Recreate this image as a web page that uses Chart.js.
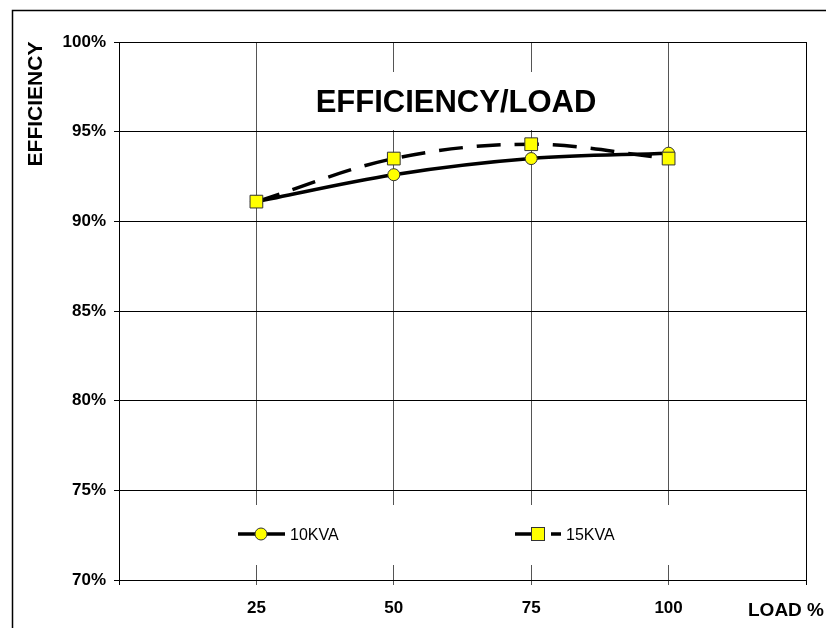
<!DOCTYPE html>
<html>
<head>
<meta charset="utf-8">
<script src="https://cdn.jsdelivr.net/npm/chart.js@4/dist/chart.umd.min.js"></script>
<style>
  html, body { margin: 0; padding: 0; background: #fff; }
  #wrap { width: 826px; height: 628px; }
</style>
</head>
<body>
<div id="wrap"><canvas id="effChart" width="826" height="628"></canvas></div>
<script>
// data
var loads = [25, 50, 75, 100];
var eff10kva = [91.1, 92.6, 93.5, 93.8];
var eff15kva = [91.1, 93.5, 94.3, 93.5];
var seriesNames = ["10KVA", "15KVA"];
var yTickValues = [70, 75, 80, 85, 90, 95, 100];
var xTickLabels = ["25", "50", "75", "100"];

var FONT = "'Liberation Sans', Arial, sans-serif";

function toPoints(xs, ys) {
  return xs.map(function (x, i) { return { x: x, y: ys[i] }; });
}

// white boxes, title, legend, axis titles and outer frame
var decorPlugin = {
  id: "decor",
  beforeDraw: function (chart) {
    var c = chart.ctx;
    c.save();
    c.fillStyle = "#fff";
    c.fillRect(0, 0, chart.width, chart.height);
    c.strokeStyle = "#000";
    c.lineWidth = 1.5;
    c.beginPath();
    c.moveTo(12.5, 628);
    c.lineTo(12.5, 10.5);
    c.lineTo(826, 10.5);
    c.stroke();
    c.restore();
  },
  beforeDatasetsDraw: function (chart) {
    var c = chart.ctx;
    c.save();
    c.fillStyle = "#fff";
    c.fillRect(300, 72, 340, 58);
    c.fillRect(225, 505, 480, 60);

    c.fillStyle = "#000";
    c.textAlign = "center";
    c.textBaseline = "middle";
    c.font = "bold 31px " + FONT;
    c.fillText("EFFICIENCY/LOAD", 456, 103);

    // y title
    c.save();
    c.translate(36, 104);
    c.rotate(-Math.PI / 2);
    c.font = "bold 21px " + FONT;
    c.fillText("EFFICIENCY", 0, 0);
    c.restore();

    c.textAlign = "left";
    c.font = "bold 19px " + FONT;
    c.fillText("LOAD %", 748, 611);

    // legend
    var ds = chart.data.datasets;
    c.lineWidth = 3.5;
    c.strokeStyle = "#000";
    c.beginPath();
    c.moveTo(238, 534);
    c.lineTo(285, 534);
    c.stroke();
    c.lineWidth = 1;
    c.strokeStyle = "#333";
    c.fillStyle = ds[1].pointBackgroundColor;
    c.beginPath();
    c.arc(261, 534, 6, 0, Math.PI * 2);
    c.fill();
    c.stroke();

    c.lineWidth = 3.5;
    c.strokeStyle = "#000";
    c.setLineDash([24, 12]);
    c.beginPath();
    c.moveTo(515, 534);
    c.lineTo(561, 534);
    c.stroke();
    c.setLineDash([]);
    c.lineWidth = 1;
    c.strokeStyle = "#333";
    c.fillStyle = ds[0].pointBackgroundColor;
    c.fillRect(531.5, 527.5, 13, 13);
    c.strokeRect(531.5, 527.5, 13, 13);

    c.fillStyle = "#000";
    c.font = "16px " + FONT;
    c.textBaseline = "middle";
    c.fillText(seriesNames[0], 290, 536);
    c.fillText(seriesNames[1], 566, 536);
    c.restore();
  }
};

var ctx = document.getElementById("effChart").getContext("2d");
var chart = new Chart(ctx, {
  type: "line",
  plugins: [decorPlugin],
  data: {
    datasets: [
      {
        label: seriesNames[1],
        data: toPoints(loads, eff15kva),
        order: 1,
        borderColor: "#000",
        borderWidth: 3.5,
        borderDash: [24, 14],
        tension: 0.35,
        pointStyle: "rect",
        pointRadius: 9,
        pointBackgroundColor: "#ffff00",
        pointBorderColor: "#333",
        pointBorderWidth: 1,
      },
      {
        label: seriesNames[0],
        data: toPoints(loads, eff10kva),
        order: 2,
        borderColor: "#000",
        borderWidth: 3.5,
        tension: 0.35,
        pointStyle: "circle",
        pointRadius: 6,
        pointBackgroundColor: "#ffff00",
        pointBorderColor: "#333",
        pointBorderWidth: 1,
      },
    ],
  },
  options: {
    responsive: false,
    animation: false,
    layout: { padding: { left: 0, top: 42, right: 20, bottom: 0 } },
    plugins: {
      legend: { display: false },
      tooltip: { enabled: false },
    },
    scales: {
      x: {
        type: "linear",
        min: 0,
        max: 125,
        afterFit: function (s) { s.height = 48; },
        afterBuildTicks: function (s) {
          s.ticks = [0, 25, 50, 75, 100, 125].map(function (v) { return { value: v }; });
        },
        grid: {
          color: function (c) {
            return c.tick && (c.tick.value === 0 || c.tick.value === 125) ? "#000" : "#555";
          },
          tickLength: 5,
        },
        border: { color: "#000", width: 1 },
        ticks: {
          padding: 13,
          color: "#000",
          font: { family: FONT, size: 17, weight: "bold" },
          callback: function (v) {
            var i = loads.indexOf(v);
            return i >= 0 ? xTickLabels[i] : "";
          },
        },
      },
      y: {
        min: 70,
        max: 100,
        afterFit: function (s) { s.width = 119; },
        afterBuildTicks: function (s) {
          s.ticks = yTickValues.map(function (v) { return { value: v }; });
        },
        grid: { color: "#000", tickLength: 5 },
        border: { color: "#000", width: 1 },
        ticks: {
          padding: 8,
          color: "#000",
          font: { family: FONT, size: 17, weight: "bold" },
          callback: function (v) { return v + "%"; },
        },
      },
    },
  },
});
</script>
</body>
</html>
